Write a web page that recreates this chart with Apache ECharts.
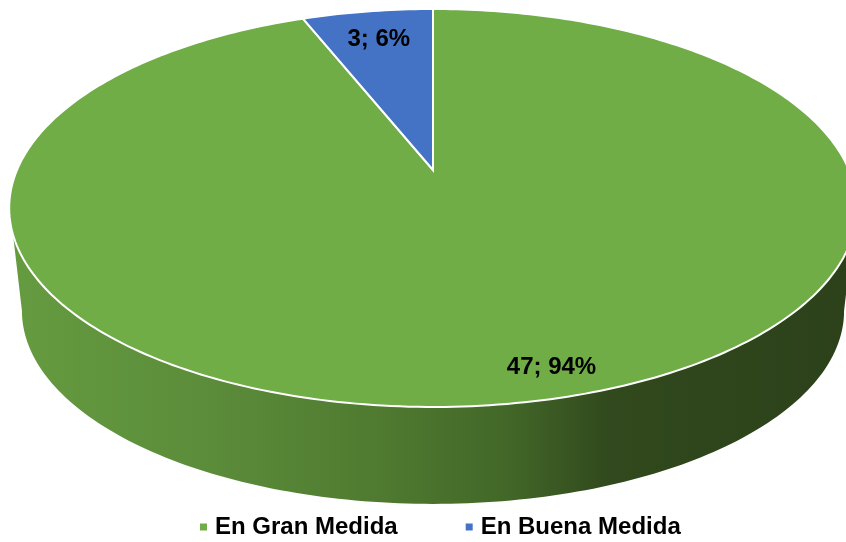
<!DOCTYPE html>
<html>
<head>
<meta charset="utf-8">
<style>
html, body { margin: 0; padding: 0; background: #fff; }
#chart { width: 846px; height: 542px; }
</style>
<script src="https://cdn.jsdelivr.net/npm/echarts@6/dist/echarts.min.js"></script>
</head>
<body>
<div id="chart"></div>
<script>
const categories = ['En Gran Medida', 'En Buena Medida']
const values = [47, 3]
const colors = ['#70ad47', '#4472c4']

// label place on the disc: angle from 12 o'clock, radius as part of the disc
const labelAngles = [164.5, 349.2]
const labelRadius = [0.891, 0.8]

// perspective of the disc, top face and bottom face of the cylinder
const topFace = { cx: 433, cy: 170, a: 416, b: 191.7, k: -0.191 }
const bottomFace = { cx: 433, cy: 274, a: 403.5, b: 186, k: -0.191 }
const wallTop = [108.5, 251.5]
const wallBottom = [101, 259]
const wallColors = [
  [0, '#669c40'], [0.25, '#5b8c3a'], [0.45, '#4f7a30'],
  [0.6, '#426728'], [0.72, '#31491d'], [1, '#2c411a']
]

const total = values.reduce((s, v) => s + v, 0)

function project (face, deg, r) {
  const t = deg * Math.PI / 180
  const x = Math.sin(t) * r
  const y = -Math.cos(t) * r
  const d = 1 + face.k * y
  return [face.cx + face.a * x / d, face.cy + face.b * y / d]
}

function arc (face, from, to) {
  const pts = []
  const n = Math.max(2, Math.ceil(Math.abs(to - from)))
  for (let i = 0; i <= n; i++) {
    pts.push(project(face, from + (to - from) * i / n, 1))
  }
  return pts
}

function renderSlice (index) {
  const before = values.slice(0, index).reduce((s, v) => s + v, 0)
  return function (params, api) {
    const value = api.value(0)
    const start = before / total * 360
    const end = (before + value) / total * 360
    const children = []

    // side wall, only the part of the slice facing us
    const from = Math.max(start, wallTop[0])
    const to = Math.min(end, wallTop[1])
    if (from < to) {
      children.push({
        type: 'polygon',
        shape: { points: arc(topFace, from, to).concat(arc(bottomFace, wallBottom[1], wallBottom[0])) },
        style: {
          fill: { type: 'linear', x: 0, y: 0, x2: 846, y2: 0, global: true, colorStops: wallColors.map(c => ({ offset: c[0], color: c[1] })) }
        }
      })
    }

    // top face
    children.push({
      type: 'polygon',
      z2: 10,
      shape: { points: [[topFace.cx, topFace.cy]].concat(arc(topFace, start, end)) },
      style: { fill: colors[index], stroke: '#fff', lineWidth: 2, lineJoin: 'miter' }
    })

    const pos = project(topFace, labelAngles[index], labelRadius[index])
    children.push({
      type: 'text',
      z2: 20,
      style: {
        x: pos[0],
        y: pos[1],
        text: value + '; ' + Math.round(value / total * 100) + '%',
        align: 'center',
        verticalAlign: 'middle',
        fill: '#000',
        font: 'bold 24px "Liberation Sans", Arial, sans-serif'
      }
    })
    return { type: 'group', children: children }
  }
}

const myChart = echarts.init(document.getElementById('chart'), null, { renderer: 'canvas' })
myChart.setOption({
  animation: false,
  backgroundColor: '#fff',
  legend: {
    data: categories,
    left: 200,
    top: 515,
    icon: 'rect',
    itemWidth: 7,
    itemHeight: 7,
    itemGap: 68,
    padding: 0,
    selectedMode: false,
    textStyle: {
      color: '#000',
      fontFamily: '"Liberation Sans", Arial, sans-serif',
      fontWeight: 'bold',
      fontSize: 24,
      padding: [0, 0, 0, 3]
    }
  },
  series: categories.map((name, i) => ({
    type: 'custom',
    name: name,
    coordinateSystem: 'none',
    silent: true,
    z: i === 0 ? 1 : 2,
    itemStyle: { color: colors[i] },
    renderItem: renderSlice(i),
    data: [[values[i]]]
  }))
})
</script>
</body>
</html>
